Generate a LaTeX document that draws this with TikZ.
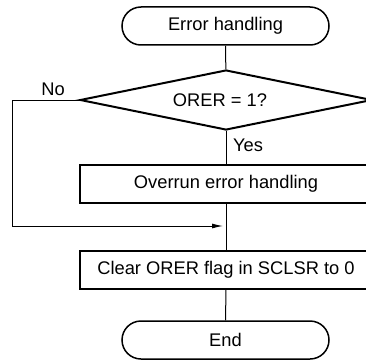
\documentclass[tikz,border=0pt]{standalone}
\usepackage{fontspec}
\setmainfont{Liberation Sans}
\usetikzlibrary{shapes.geometric,arrows.meta}
\begin{document}
\begin{tikzpicture}[x=1pt,y=-1pt,
  every node/.style={font=\fontsize{18.3}{22}\selectfont, inner sep=0pt},
  term/.style={draw, line width=1.5pt, rounded corners=19pt, minimum width=207pt, minimum height=38pt},
  procbox/.style={draw, line width=2pt, minimum width=292pt, minimum height=38pt},
  decide/.style={draw, diamond, aspect=4.87, line width=2pt, minimum width=292pt, minimum height=60pt},
  conn/.style={line width=1pt},
  lbl/.style={}]
\useasboundingbox (0,0) rectangle (366,361);
\clip (0,0) rectangle (366,361);
\node[term] (start) at (225.5,26) {Error handling};
\node[decide] (dec) at (226,100) {\raisebox{-4pt}{ORER = 1?\hspace{12pt}}};
\node[procbox] (p1) at (226,184) {Overrun error handling\hspace{8pt}};
\node[procbox] (p2) at (226,269.5) {Clear ORER flag in SCLSR to 0\hspace{8pt}};
\node[term] (end) at (225.5,340) {End};
\coordinate (m) at (226,226);
\coordinate (c1) at (12,100);
\coordinate (c2) at (12,226);
\node[lbl] at (53,89) {No};
\node[lbl] at (248,145) {Yes};
\draw[conn] (start) -- (dec);
\draw[conn] (dec) -- (p1);
\draw[conn] (p1) -- (p2);
\draw[conn] (p2) -- (end);
\draw[conn, -{Latex[length=11pt,width=5pt]}, shorten >=3pt] (dec.west) -- (c1) -- (c2) -- (m);
\end{tikzpicture}
\end{document}
